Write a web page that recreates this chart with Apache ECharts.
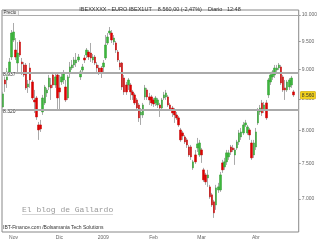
<!DOCTYPE html>
<html><head><meta charset="utf-8">
<script src="https://cdn.jsdelivr.net/npm/echarts@6/dist/echarts.min.js"></script>
<style>html,body{margin:0;padding:0;background:#fff}#c{width:320px;height:240px}</style>
</head><body><div id="c"></div>
<script>
const openP = [
8368,8817,8817,8955,9218,9527,9344,9112,9490,9130,
9077,9077,8698,9024,8783,8482,8515,8081,8081,8287,
8433,8598,8698,8732,8903,8732,8903,8682,8783,8817,
8698,8515,8937,9024,9077,9112,9165,8869,8989,9201,
9254,9308,9290,9165,9218,9077,9024,9024,9042,9201,
9472,9657,9657,9490,9472,9308,9112,9112,8851,8732,
8732,8732,8615,8565,8482,8400,8239,8239,8532,8648,
8532,8532,8482,8433,8400,8400,8351,8515,8532,8532,
8400,8351,8319,8239,8192,8003,7957,7896,7850,7744,
7744,7436,7625,7729,7625,7699,7407,7335,7293,7167,
7057,6962,6921,7125,7125,7508,7450,7523,7596,7744,
7729,7625,7729,7820,7896,7957,8081,7957,8003,7804,
7625,7744,8113,8287,8433,8319,8433,8565,8783,8869,
8903,8989,9024,9042,8869,8682,8648,8698,8732,8615];
const closeP = [
8582,8749,8955,9130,9657,9676,9218,9290,9254,9095,
8903,8682,8749,8817,8515,8449,8207,8003,8019,8515,
8698,8648,8851,8682,8732,8869,8515,8615,8869,8920,
8482,8869,9042,9077,9165,9165,9218,8955,9042,9165,
9344,9218,9201,9218,9112,9024,8955,8955,9112,9435,
9583,9694,9527,9564,9344,9165,9042,8698,8615,8615,
8817,8615,8565,8433,8351,8192,8287,8400,8682,8532,
8482,8433,8416,8515,8482,8351,8482,8565,8598,8400,
8335,8271,8239,8192,8081,7850,7911,7820,7774,7625,
7596,7523,7523,7789,7804,7625,7265,7237,7335,7030,
6921,6815,7153,7167,7335,7407,7523,7655,7655,7669,
7699,7699,7820,7957,7972,8081,8113,8050,7926,7581,
7804,7972,8319,8351,8271,8400,8192,8817,8903,8955,
9024,9024,9077,8766,8648,8648,8783,8817,8851,8565];
const lowP = [
8351,8615,8682,8920,9165,9490,9165,8955,9218,8903,
8869,8648,8598,8682,8482,8271,8160,7850,7972,8239,
8400,8532,8648,8482,8682,8682,8319,8319,8732,8749,
8449,8482,8851,8989,9024,9042,9130,8817,8955,9112,
9201,9165,9130,9112,9077,8955,8903,8851,8937,9165,
9435,9620,9472,9435,9290,9130,8989,8648,8565,8565,
8648,8482,8482,8400,8319,8128,8081,8192,8482,8482,
8400,8384,8368,8384,8351,8207,8319,8482,8482,8368,
8303,8207,8113,8160,8050,7820,7850,7789,7729,7596,
7552,7407,7494,7669,7596,7508,7237,7195,7167,7003,
6895,6749,6855,7084,7098,7364,7407,7479,7552,7625,
7669,7479,7699,7774,7850,7926,8050,7926,7850,7552,
7581,7699,8081,8239,8223,8271,8160,8515,8732,8817,
8851,8955,8989,8732,8615,8482,8615,8648,8682,8532];
const highP = [
8615,8903,9024,9201,9713,9846,9564,9490,9527,9201,
9130,9112,8817,9112,8817,8648,8548,8128,8160,8565,
8732,8682,8903,8851,8955,8920,8937,8903,8920,8989,
8817,8903,9130,9165,9218,9290,9272,8989,9095,9254,
9380,9344,9472,9272,9254,9130,9077,9059,9165,9620,
9657,9770,9713,9620,9509,9344,9165,9130,8903,8783,
8851,8766,8648,8598,8515,8433,8351,8433,8732,8682,
8598,8565,8515,8548,8515,8433,8515,8615,8648,8565,
8433,8384,8351,8287,8223,8034,7988,7926,7880,7774,
7774,7552,7699,7880,7850,7729,7436,7364,7407,7195,
7084,6989,7195,7223,7378,7552,7581,7699,7699,7774,
7774,7729,7850,8003,8034,8128,8160,8081,8034,7850,
7850,8034,8351,8400,8482,8449,8482,8851,8955,8989,
9077,9077,9112,9077,8903,8817,8817,8851,8886,8648];
const blankSlots = 2;
const tickLabels = ['Nov','Dic','2009','Feb','Mar','Abr'];
const tickIndex = [5,27,48,72,95,121];
const yTicks = [7000,7500,8000,8500,9000,9500,10000];
const levels = [8937, 8320];
const lastPrice = 8560;
const titleText = 'IBEXXXXX - EURO IBEX1UT    8.560,00 (-2,47%)    Diario   12:48';

const N = openP.length + blankSlots;
const categories = Array.from({length: N}, (_, i) => 'd' + i);
const fmt = v => String(Math.round(v)).replace(/\B(?=(\d{3})+(?!\d))/g, '.');
const wickData = openP.map((o, i) => [o, closeP[i], lowP[i], highP[i]]);
const bodyData = openP.map((o, i) => [o, closeP[i], Math.min(o, closeP[i]), Math.max(o, closeP[i])]);

const chart = echarts.init(document.getElementById('c'), null, {renderer: 'canvas', devicePixelRatio: 1});
chart.setOption({
  animation: false,
  backgroundColor: '#fff',
  textStyle: {fontFamily: '"Liberation Sans", Arial, sans-serif'},
  title: {text: titleText, left: 'center', top: 1,
    textStyle: {fontSize: 5.5, fontWeight: 'normal', color: '#333'}},
  grid: {left: 2, right: 20, top: 10, bottom: 8, show: true, borderColor: '#888', borderWidth: 1, backgroundColor: '#fff'},
  xAxis: {type: 'category', data: categories, boundaryGap: true,
    axisLine: {show: false}, axisTick: {show: false}, splitLine: {show: false},
    axisLabel: {interval: (i) => tickIndex.includes(i), formatter: (v, i) => {
      const k = tickIndex.indexOf(i); return k >= 0 ? tickLabels[k] : ''; },
      fontSize: 5, color: '#666', margin: 3}},
  yAxis: {type: 'log', logBase: 10, min: 6567, max: 10097, position: 'right', scale: true,
    axisLine: {show: false}, splitLine: {show: false},
    axisTick: {show: true, length: 2, lineStyle: {color: '#999'}, customValues: yTicks},
    axisLabel: {customValues: yTicks, formatter: fmt, fontSize: 5, color: '#666', margin: 3}},
  series: [
    {type: 'candlestick', data: wickData, barWidth: 1, silent: true,
      itemStyle: {color: '#aaa', color0: '#aaa', borderColor: '#aaa', borderColor0: '#aaa', borderWidth: 1},
      markLine: {silent: true, symbol: 'none',
        lineStyle: {color: '#aaa', width: 2, type: 'solid'},
        label: {position: 'insideStartTop', distance: [1, -4], formatter: p => fmt(p.value), fontSize: 5, color: '#333', backgroundColor: 'rgba(255,255,255,0.6)', padding: 0},
        data: levels.map(v => ({yAxis: v}))}},
    {type: 'candlestick', data: bodyData, barWidth: 2, silent: true, z: 3,
      itemStyle: {color: '#3cb83c', color0: '#e00000', borderColor: '#2f9a2f', borderColor0: '#c00000', borderWidth: 0.5},
      markLine: {silent: true, symbol: 'none',
        lineStyle: {color: 'rgba(0,0,0,0)', width: 0},
        label: {show: true, position: 'end', distance: 2, formatter: p => fmt(p.value), fontSize: 5, color: '#333', backgroundColor: '#f3d21c', borderColor: '#c9a400', borderWidth: 0.5, padding: [1, 1]},
        data: [{yAxis: lastPrice}]}}
  ],
  graphic: [
    {type: 'line', shape: {x1: 2, y1: 15.5, x2: 300, y2: 15.5}, style: {stroke: '#aaa', lineWidth: 1}, silent: true},
    {type: 'rect', shape: {x: 2.5, y: 10.5, width: 16, height: 5}, style: {fill: '#f4f4f4', stroke: '#999', lineWidth: 0.5}, silent: true},
    {type: 'text', x: 3.5, y: 10.6, style: {text: 'Precio', font: '4.5px "Liberation Sans", Arial', fill: '#333'}, silent: true},
    {type: 'text', x: 22, y: 206, style: {text: 'El blog de Gallardo', font: '8px "Liberation Mono", "DejaVu Sans Mono", monospace', fill: '#999'}, silent: true},
    {type: 'line', shape: {x1: 22, y1: 214.5, x2: 113, y2: 214.5}, style: {stroke: '#bbb', lineWidth: 0.6}, silent: true},
    {type: 'text', x: 3, y: 225.5, style: {text: 'IBT-Finance.com /Bolsamania Tech Solutions', font: '5px "Liberation Sans", Arial', fill: '#333'}, silent: true}
  ]
});
</script></body></html>
